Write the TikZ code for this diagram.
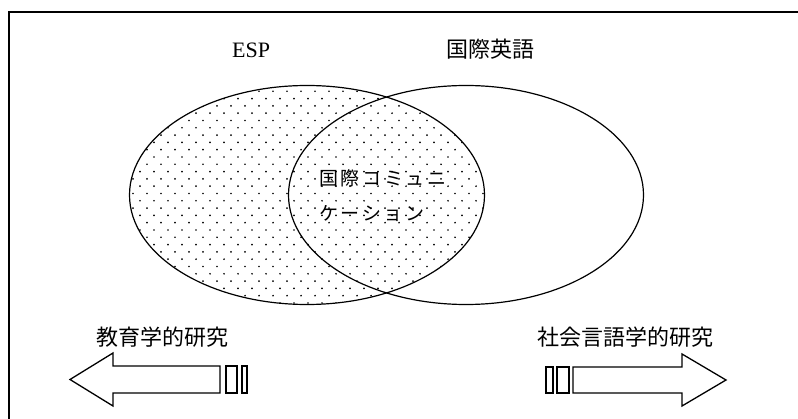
\documentclass[tikz,border=0pt]{standalone}
\usepackage{fontspec}
\setmainfont{Liberation Serif}
\newfontfamily\jp{Noto Sans CJK JP}
\newfontfamily\jpsp[LetterSpace=14]{Noto Sans CJK JP}
\usetikzlibrary{shapes.geometric}
\tikzset{
  venn/.style={draw, ellipse, line width=1.2pt, minimum width=355pt, minimum height=219pt, inner sep=0pt},
  toplabel/.style={anchor=base, inner sep=0pt, font=\jp\fontsize{22pt}{24pt}\selectfont},
  innerlabel/.style={anchor=base west, inner sep=0pt, font=\jpsp\fontsize{19pt}{21pt}\selectfont},
  fatarrow/.style={draw, line width=1.3pt, line join=miter},
  frameline/.style={line width=1.1pt},
  dot/.style={fill=black}
}
\begin{document}
\begin{tikzpicture}[x=1pt, y=-1pt]
\useasboundingbox (0,0) rectangle (798,419);
% frame (partly cut off at right and bottom)
\draw[frameline] (9,430) -- (9,12) -- (810,12);
% dotted fill of ESP
\begin{scope}
  \clip (307,195) ellipse [x radius=177.5pt, y radius=109.5pt];
  \foreach \j in {0,...,30} {
    \foreach \i in {0,...,26} {
      \pgfmathsetmacro{\xx}{126 + \i*14 + mod(\j,2)*7}
      \pgfmathsetmacro{\yy}{84 + \j*7.3}
      \fill[dot] (\xx,\yy) circle [radius=0.95pt];
    }
  }
\end{scope}
% ellipses
\node[venn] (esp) at (307,195) {};
\node[venn] (ie) at (466,195) {};
% labels
\node[anchor=base west, inner sep=0pt, font=\fontsize{22pt}{24pt}\selectfont] (esplabel) at (232,58) {ESP};
\node[toplabel] (ielabel) at (490,57.5) {国際英語};
\node[innerlabel] (ic1) at (319,186) {国際コミュニ};
\node[innerlabel] (ic2) at (319,221) {ケーション};
\node[toplabel] (edu) at (162,345.5) {教育学的研究};
\node[toplabel] (soc) at (625,345.5) {社会言語学的研究};
% left fat arrow
\draw[fatarrow] (70,379.5) -- (113,353) -- (113,366) -- (220,366) -- (220,393) -- (113,393) -- (113,406) -- cycle;
\draw[fatarrow] (226,366) rectangle (237,393);
\draw[fatarrow] (242,366) rectangle (247,393);
% right fat arrow
\draw[fatarrow] (726,380) -- (682,354) -- (682,367) -- (573,367) -- (573,393) -- (682,393) -- (682,406) -- cycle;
\draw[fatarrow] (557,367) rectangle (569,393);
\draw[fatarrow] (546,367) rectangle (553,393);
\end{tikzpicture}
\end{document}
